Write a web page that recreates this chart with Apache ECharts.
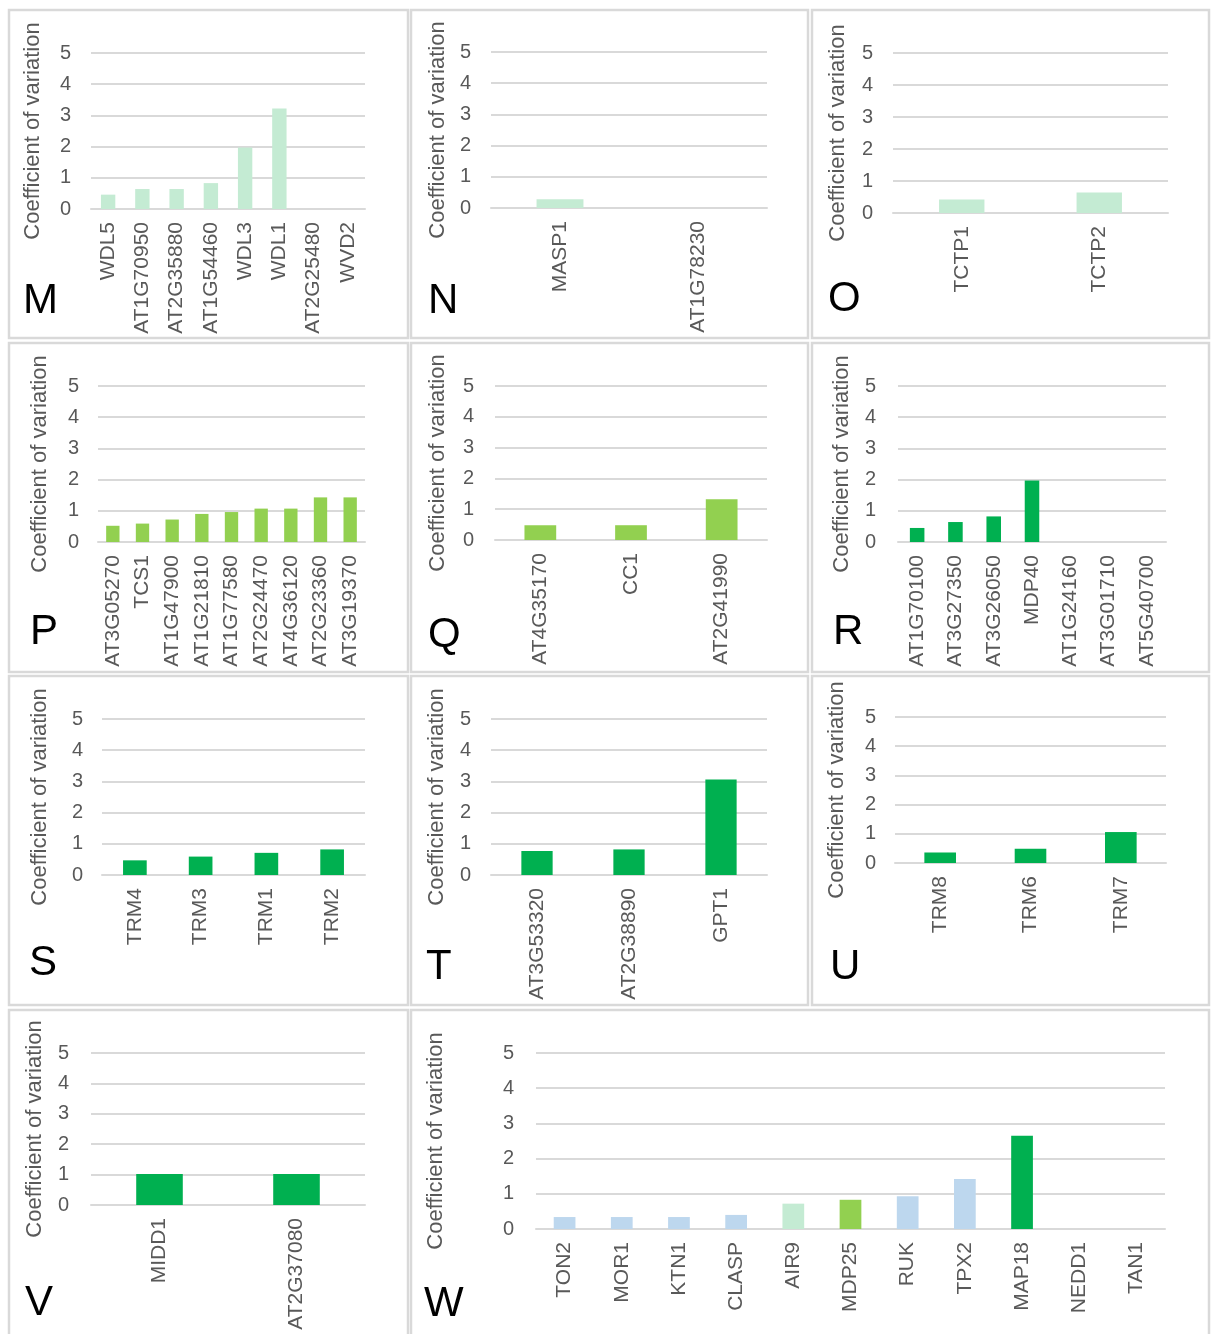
<!DOCTYPE html>
<html><head><meta charset="utf-8">
<script src="https://cdn.jsdelivr.net/npm/echarts@6/dist/echarts.min.js"></script>
<style>html,body{margin:0;padding:0;background:#fff}#c{width:1211px;height:1334px}</style>
</head><body><div id="c"></div>
<script>
// ---------- DATA ----------
const mCats = ['WDL5','AT1G70950','AT2G35880','AT1G54460','WDL3','WDL1','AT2G25480','WVD2'];
const mVals = [0.46, 0.64, 0.64, 0.83, 1.97, 3.22, 0, 0];
const nCats = ['MASP1','AT1G78230'];
const nVals = [0.28, 0];
const oCats = ['TCTP1','TCTP2'];
const oVals = [0.42, 0.64];
const pCats = ['AT3G05270','TCS1','AT1G47900','AT1G21810','AT1G77580','AT2G24470','AT4G36120','AT2G23360','AT3G19370'];
const pVals = [0.52, 0.59, 0.72, 0.90, 0.96, 1.07, 1.07, 1.43, 1.43];
const qCats = ['AT4G35170','CC1','AT2G41990'];
const qVals = [0.48, 0.48, 1.32];
const rCats = ['AT1G70100','AT3G27350','AT3G26050','MDP40','AT1G24160','AT3G01710','AT5G40700'];
const rVals = [0.45, 0.64, 0.82, 1.97, 0, 0, 0];
const sCats = ['TRM4','TRM3','TRM1','TRM2'];
const sVals = [0.47, 0.59, 0.71, 0.82];
const tCats = ['AT3G53320','AT2G38890','GPT1'];
const tVals = [0.77, 0.82, 3.06];
const uCats = ['TRM8','TRM6','TRM7'];
const uVals = [0.36, 0.49, 1.06];
const vCats = ['MIDD1','AT2G37080'];
const vVals = [1.02, 1.02];
const wCats = ['TON2','MOR1','KTN1','CLASP','AIR9','MDP25','RUK','TPX2','MAP18','NEDD1','TAN1'];
const wVals = [0.34, 0.34, 0.34, 0.40, 0.72, 0.83, 0.93, 1.42, 2.65, 0, 0];
const wGroup = ['other','other','other','other','MNO','PQ','other','other','RV','other','other'];
const yTicks = [0, 1, 2, 3, 4, 5];
const yName = 'Coefficient of variation';

// ---------- STYLE / LAYOUT ----------
const groupColor = {MNO:'#C4EBD3', PQ:'#92D050', RV:'#00B050', other:'#BDD7EE'};
const FONT = 'Liberation Sans';
const GRAY = '#595959';
const GRID = '#D9D9D9';

const panels = [
  {letter:'M', cats:mCats, vals:mVals, grp:'MNO', g:[91,365,53,209],  nameGap:47, lm:20, bw:'42%', box:[9,10,399,328],   lp:[23,301]},
  {letter:'N', cats:nCats, vals:nVals, grp:'MNO', g:[491,767,52,208], nameGap:42, lm:20, bw:'34%', box:[411,10,397,328], lp:[428,301]},
  {letter:'O', cats:oCats, vals:oVals, grp:'MNO', g:[893,1168,53,213],nameGap:44, lm:20, bw:'33%', box:[812,10,397,328], lp:[828,299]},
  {letter:'P', cats:pCats, vals:pVals, grp:'PQ',  g:[98,365,386,542], nameGap:47, lm:19, bw:'45%', box:[9,343,399,329],  lp:[30,632]},
  {letter:'Q', cats:qCats, vals:qVals, grp:'PQ',  g:[495,767,386,540],nameGap:46, lm:21, bw:'35%', box:[411,343,397,329],lp:[428,635]},
  {letter:'R', cats:rCats, vals:rVals, grp:'RV',  g:[898,1166,386,542],nameGap:45,lm:22, bw:'38%', box:[812,343,397,329],lp:[833,632]},
  {letter:'S', cats:sCats, vals:sVals, grp:'RV',  g:[102,365,719,875],nameGap:51, lm:19, bw:'36%', box:[9,676,399,329],  lp:[29,963]},
  {letter:'T', cats:tCats, vals:tVals, grp:'RV',  g:[491,767,719,875],nameGap:43, lm:20, bw:'34%', box:[411,676,397,329],lp:[426,967]},
  {letter:'U', cats:uCats, vals:uVals, grp:'RV',  g:[895,1166,717,863],nameGap:47,lm:19, bw:'35%', box:[812,676,397,329],lp:[830,967]},
  {letter:'V', cats:vCats, vals:vVals, grp:'RV',  g:[91,365,1053,1205],nameGap:45,lm:22, bw:'34%', box:[9,1010,399,340], lp:[25,1303]},
  {letter:'W', cats:wCats, vals:wVals, grp:null,  g:[536,1165,1053,1229],nameGap:89,lm:22,bw:'38%', box:[411,1010,798,340],lp:[424,1304]}
];

const grids=[], xAxes=[], yAxes=[], series=[], graphics=[];
panels.forEach((p,i)=>{
  const [l,r,t,b] = p.g;
  grids.push({left:l, top:t, width:r-l, height:b-t});
  xAxes.push({
    type:'category', gridIndex:i, data:p.cats,
    axisLine:{show:true, lineStyle:{color:GRID, width:2}},
    axisTick:{show:false},
    axisLabel:{interval:0, rotate:90, margin:13, color:GRAY, fontSize:21, fontFamily:FONT}
  });
  yAxes.push({
    type:'value', gridIndex:i, min:yTicks[0], max:yTicks[yTicks.length-1], interval:1,
    name:yName, nameLocation:'middle', nameRotate:90, nameGap:p.nameGap,
    nameTextStyle:{color:GRAY, fontSize:22, fontFamily:FONT},
    axisLine:{show:false}, axisTick:{show:false},
    axisLabel:{color:GRAY, fontSize:20, fontFamily:FONT, margin:p.lm},
    splitLine:{lineStyle:{color:GRID, width:2}}
  });
  const data = p.vals.map((v,k)=>({
    value:v,
    itemStyle:{color: p.grp ? groupColor[p.grp] : groupColor[wGroup[k]]}
  }));
  series.push({type:'bar', xAxisIndex:i, yAxisIndex:i, data:data, barWidth:p.bw, animation:false});
  const [bx,by,bwid,bh] = p.box;
  graphics.push({type:'rect', shape:{x:bx, y:by, width:bwid, height:bh}, style:{fill:'none', stroke:GRID, lineWidth:2.5}, silent:true});
  graphics.push({type:'text', x:p.lp[0], y:p.lp[1], style:{text:p.letter, fill:'#000', fontSize:42, fontFamily:FONT, textVerticalAlign:'middle'}, silent:true});
});

const chart = echarts.init(document.getElementById('c'), null, {renderer:'canvas'});
chart.setOption({
  animation:false,
  backgroundColor:'#fff',
  grid:grids, xAxis:xAxes, yAxis:yAxes, series:series, graphic:graphics
});
</script></body></html>
